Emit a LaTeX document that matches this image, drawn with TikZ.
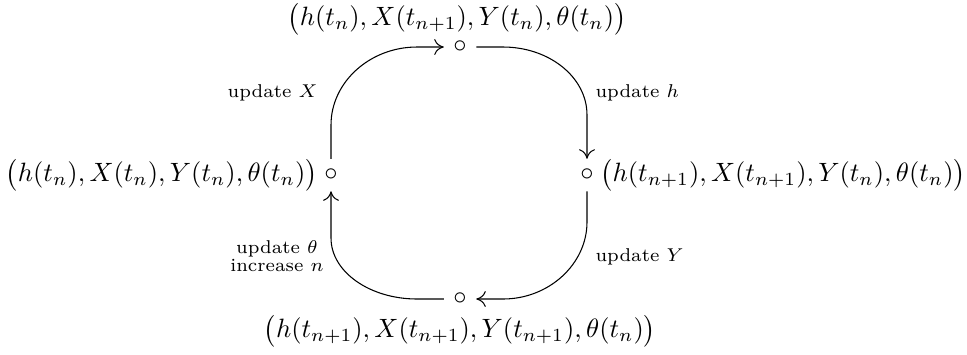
\documentclass[tikz,border=0pt]{standalone}
\usepackage{amsmath}
\usetikzlibrary{arrows.meta}
\begin{document}
\begin{tikzpicture}[x=0.3775pt,y=-0.3775pt,
  pt/.style={circle,minimum size=6pt,inner sep=0pt},
  lab/.style={font=\scriptsize,inner sep=0pt,align=center},
  st/.style={inner sep=0pt},
  arr/.style={-{Computer Modern Rightarrow[length=3.6pt,width=6pt]},line width=0.4pt,shorten <=2.6pt,shorten >=2.6pt}]
\useasboundingbox (0,0) rectangle (967,354);
\node[pt] (T) at (460,47) {$\circ$};
\node[pt] (R) at (587,175) {$\circ$};
\node[pt] (B) at (460,299) {$\circ$};
\node[pt] (L) at (331,175) {$\circ$};
\node[st] (tT) at (457,19) {$\bigl(h(t_n), X(t_{n+1}), Y(t_n), \theta(t_n)\bigr)$};
\node[st,anchor=west] (tR) at (600,175) {$\bigl(h(t_{n+1}), X(t_{n+1}), Y(t_n), \theta(t_n)\bigr)$};
\node[st] (tB) at (460,331) {$\bigl(h(t_{n+1}), X(t_{n+1}), Y(t_{n+1}), \theta(t_n)\bigr)$};
\node[st,anchor=east] (tL) at (318,175) {$\bigl(h(t_n), X(t_n), Y(t_n), \theta(t_n)\bigr)$};
\node[lab,anchor=east] (uX) at (318,93) {update $X$};
\node[lab,anchor=west] (uh) at (595,93) {update $h$};
\node[lab,anchor=west] (uY) at (595,257) {update $Y$};
\node[lab] (ut) at (277,256) {update $\theta$\\[-1pt]increase $n$};
\coordinate (a1) at (331,125); \coordinate (a2) at (417,47);
\coordinate (b1) at (503,47); \coordinate (b2) at (587,115);
\coordinate (c1) at (587,222); \coordinate (c2) at (503,299);
\coordinate (d1) at (417,299); \coordinate (d2) at (331,238);
\draw[arr] (L.north) -- (a1) .. controls (331,82) and (370,47) .. (a2) -- (T.west);
\draw[arr] (T.east) -- (b1) .. controls (549,47) and (587,77) .. (b2) -- (R.north);
\draw[arr] (R.south) -- (c1) .. controls (587,264) and (549,299) .. (c2) -- (B.east);
\draw[arr] (B.west) -- (d1) .. controls (370,299) and (331,272) .. (d2) -- (L.south);
\end{tikzpicture}
\end{document}
